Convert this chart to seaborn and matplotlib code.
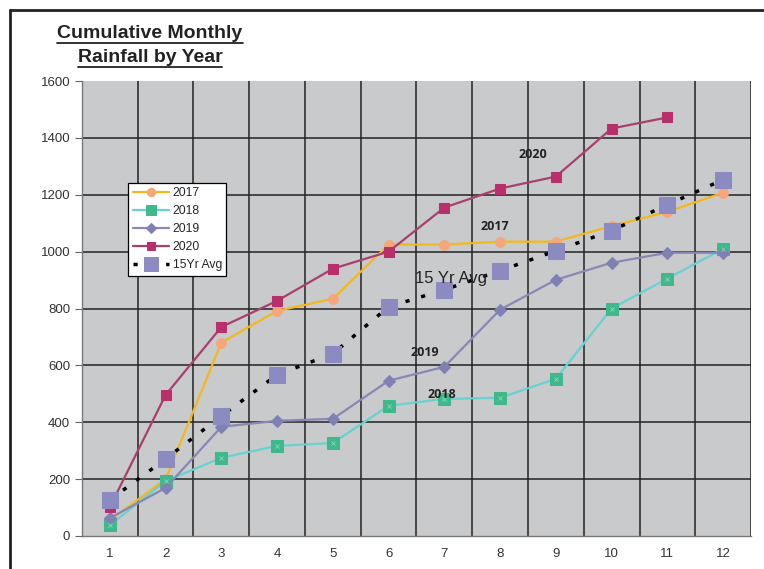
import numpy as np
import pandas as pd
import matplotlib
matplotlib.use("Agg")
import matplotlib.pyplot as plt
import seaborn as sns
from matplotlib.lines import Line2D

months = list(range(1, 13))
rain_2017 = [55, 200, 680, 792, 834, 1025, 1025, 1035, 1035, 1090, 1140, 1207]
rain_2018 = [38, 193, 275, 317, 327, 458, 482, 486, 553, 800, 905, 1010]
rain_2019 = [63, 169, 384, 405, 412, 546, 595, 796, 901, 961, 996, 996]
rain_2020 = [102, 496, 735, 827, 940, 1000, 1155, 1222, 1264, 1433, 1472, None]
avg_15yr = [127, 271, 422, 567, 641, 806, 866, 933, 1003, 1074, 1165, 1253]

labels = ["2017", "2018", "2019", "2020", "15Yr Avg"]
notes = ["2020", "2017", "2019", "2018"]
note_x = [8.59, 7.91, 6.65, 6.96]
note_y = [1343, 1090, 647, 496]

sns.set_style("white")
plt.rcParams['font.family'] = ['Liberation Sans', 'DejaVu Sans']

fig = plt.figure(figsize=(7.64, 5.69), dpi=100)
ax = fig.add_axes([0.1073, 0.058, 0.983 - 0.1073, 0.8576 - 0.058])
ax.set_facecolor('#c9cacc')

styles = [
    dict(color='#f2b81c', marker='o', markersize=7, markerfacecolor='#f7a67a', markeredgecolor='#f7a67a', lw=1.6),
    dict(color='#66d2d2', marker='s', markersize=9, markerfacecolor='#3fb98c', markeredgecolor='#3fb98c', lw=1.6),
    dict(color='#8a86b6', marker='D', markersize=6, markerfacecolor='#8080b2', markeredgecolor='#8080b2', lw=1.6),
    dict(color='#a8406e', marker='s', markersize=7.5, markerfacecolor='#b82f6c', markeredgecolor='#b82f6c', lw=1.6),
    dict(color='black', marker='s', markersize=12, markerfacecolor='#8b8bc2', markeredgecolor='#8b8bc2', lw=2.5,
         linestyle=(0, (1.2, 3.5))),
]
series = [rain_2017, rain_2018, rain_2019, rain_2020, avg_15yr]

for vals, lab, st in zip(series, labels, styles):
    df = pd.DataFrame({'month': months, 'rain': vals}).dropna()
    sns.lineplot(data=df, x='month', y='rain', ax=ax, label=lab, zorder=3, **st)

# faint x marks inside the 2018 squares
df18 = pd.DataFrame({'month': months, 'rain': rain_2018})
ax.plot(df18['month'], df18['rain'], linestyle='none', marker='x', markersize=3.5,
        markeredgecolor='#8fd8b8', markeredgewidth=0.6, zorder=4)

ax.set_xlim(0.5, 12.5)
ax.set_ylim(0, 1600)
ax.set_yticks(range(0, 1601, 200))
ax.set_xticks(months)
ax.set_xticks(np.arange(0.5, 12.6, 1), minor=True)
ax.grid(False)
ax.grid(True, which='minor', axis='x', color='#222222', lw=1.1)
for yv in range(200, 1600, 200):
    ax.axhline(yv, color='#222222', lw=1.1, zorder=1)
ax.set_xlabel('')
ax.set_ylabel('')
ax.tick_params(axis='x', which='major', length=0, pad=9, labelsize=9.5, labelcolor='#333333')
ax.tick_params(axis='x', which='minor', length=5, color='#666666', direction='out')
ax.tick_params(axis='y', length=5, color='#666666', direction='out', labelsize=9.5, labelcolor='#333333', left=True)
for side in ['top', 'right']:
    ax.spines[side].set_visible(False)
for side in ['left', 'bottom']:
    ax.spines[side].set_color('#777777')
    ax.spines[side].set_linewidth(1)

leg = ax.legend(loc='upper left', bbox_to_anchor=(0.06, 0.79), frameon=True, fancybox=False,
                edgecolor='black', framealpha=1, fontsize=8.8, handlelength=3.0, labelspacing=0.5,
                borderpad=0.35, handletextpad=0.3, markerscale=0.85)
leg.get_frame().set_linewidth(0.9)
leg.set_zorder(6)

for t, x, y in zip(notes, note_x, note_y):
    ax.text(x, y, t, ha='center', va='center', fontsize=9, fontweight='bold', color='#222222',
            family=['Open Sans', 'DejaVu Sans'], zorder=5)
ax.text(7.12, 907, '15 Yr Avg', ha='center', va='center', fontsize=12, color='#222222', zorder=5)

# title with underline
title_lines = ["Cumulative Monthly", "Rainfall by Year"]
title_y = [1 - 34 / 569, 1 - 58 / 569]
fig.canvas.draw()
renderer = fig.canvas.get_renderer()
for txt, ty in zip(title_lines, title_y):
    t = fig.text(150 / 764, ty, txt, ha='center', va='center', fontsize=14, fontweight='bold',
                 color='#222222')
    bb = t.get_window_extent(renderer=renderer).transformed(fig.transFigure.inverted())
    fig.add_artist(Line2D([bb.x0, bb.x1], [bb.y0 - 0.001, bb.y0 - 0.001], transform=fig.transFigure,
                          color='#222222', lw=1.3))

# outer frame (top and left)
fig.add_artist(Line2D([10 / 764, 1], [1 - 10 / 569, 1 - 10 / 569], transform=fig.transFigure, color='#222222', lw=2))
fig.add_artist(Line2D([10 / 764, 10 / 764], [0, 1 - 10 / 569], transform=fig.transFigure, color='#222222', lw=2))

fig.savefig('out.png', dpi=100)
